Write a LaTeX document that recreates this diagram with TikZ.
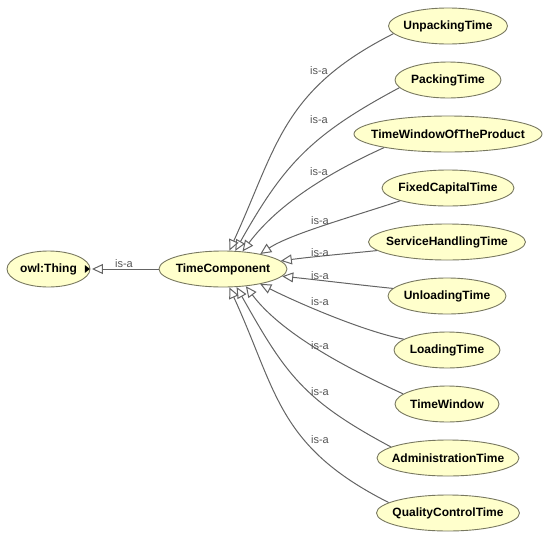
\documentclass[tikz,border=0pt]{standalone}
\usepackage{fontspec}
\newfontfamily\nodefont{Liberation Sans}
\usetikzlibrary{shapes.geometric,arrows.meta}
\definecolor{nodefill}{RGB}{255,255,204}
\definecolor{nodeline}{RGB}{120,120,96}
\definecolor{edgecol}{RGB}{100,100,100}
\definecolor{lblcol}{RGB}{85,85,85}
\begin{document}
\begin{tikzpicture}[x=1pt,y=1pt,
  cls/.style={ellipse,draw=nodeline,line width=0.9pt,fill=nodefill,inner sep=0pt,minimum height=36pt,
    font=\nodefont\bfseries\fontsize{12}{14}\selectfont},
  isa/.style={draw=edgecol,line width=1pt,-{Triangle[open,length=11pt,width=10pt]}},
  lbl/.style={font=\nodefont\fontsize{11}{13}\selectfont,text=lblcol,inner sep=0pt}]
\useasboundingbox (0,0) rectangle (550,-539);
% nodes
\node[cls,minimum width=83pt] (thing) at (48.5,-269) {\makebox[0pt]{owl:Thing}};
\node[cls,minimum width=128pt] (tc) at (223,-269) {\makebox[0pt]{TimeComponent}};
\node[cls,minimum width=119pt] (c1) at (448,-26) {\makebox[0pt]{UnpackingTime}};
\node[cls,minimum width=106pt] (c2) at (448,-80) {\makebox[0pt]{PackingTime}};
\node[cls,minimum width=188pt] (c3) at (448,-134) {\makebox[0pt]{TimeWindowOfTheProduct}};
\node[cls,minimum width=132pt] (c4) at (448,-188) {\makebox[0pt]{FixedCapitalTime}};
\node[cls,minimum width=157pt] (c5) at (447,-242) {\makebox[0pt]{ServiceHandlingTime}};
\node[cls,minimum width=118pt] (c6) at (447,-296) {\makebox[0pt]{UnloadingTime}};
\node[cls,minimum width=106pt] (c7) at (447,-350) {\makebox[0pt]{LoadingTime}};
\node[cls,minimum width=104pt] (c8) at (447,-404) {\makebox[0pt]{TimeWindow}};
\node[cls,minimum width=142pt] (c9) at (448,-458) {\makebox[0pt]{AdministrationTime}};
\node[cls,minimum width=143pt] (c10) at (448,-513) {\makebox[0pt]{QualityControlTime}};
% collapsed marker
\fill[black] (thing.east) ++(-0.5,0) -- ++(-5,3.8) -- ++(0,-7.6) -- cycle;
% edges
\draw[isa,shorten >=1.5pt] (tc.west) -- (thing.east);
\draw[isa] (c1.188) .. controls +(-111,-56) and +(48,105) .. (tc.71.5);
\draw[isa] (c2.189) .. controls +(-88,-47) and +(49,87) .. (tc.56);
\draw[isa] (c3.192) .. controls +(-55,-25) and +(36,48) .. (tc.42);
\draw[isa] (c4.195) .. controls +(-45,-15) and +(30,20) .. (tc.22.5);
\draw[isa] (c5.187) .. controls +(-30,-3) and +(30,4) .. (tc.8);
\draw[isa] (c6.172) .. controls +(-30,3) and +(30,-3) .. (tc.-7);
\draw[isa] (c7.166) .. controls +(-40,8) and +(40,-20) .. (tc.-22);
\draw[isa] (c8.167) .. controls +(-55,25) and +(36,-48) .. (tc.-37.5);
\draw[isa] (c9.169) .. controls +(-88,47) and +(49,-87) .. (tc.-53.6);
\draw[isa] (c10.170) .. controls +(-111,56) and +(48,-105) .. (tc.-71.5);
% labels
\node[lbl] (l0) at (124,-264) {is-a};
\node[lbl] (l1) at (319,-70.5) {is-a};
\node[lbl] (l2) at (319,-120) {is-a};
\node[lbl] (l3) at (319,-172) {is-a};
\node[lbl] (l4) at (320,-221) {is-a};
\node[lbl] (l5) at (320,-253) {is-a};
\node[lbl] (l6) at (320,-276) {is-a};
\node[lbl] (l7) at (320,-302) {is-a};
\node[lbl] (l8) at (320,-346) {is-a};
\node[lbl] (l9) at (320,-392) {is-a};
\node[lbl] (l10) at (320,-440) {is-a};
\end{tikzpicture}
\end{document}
